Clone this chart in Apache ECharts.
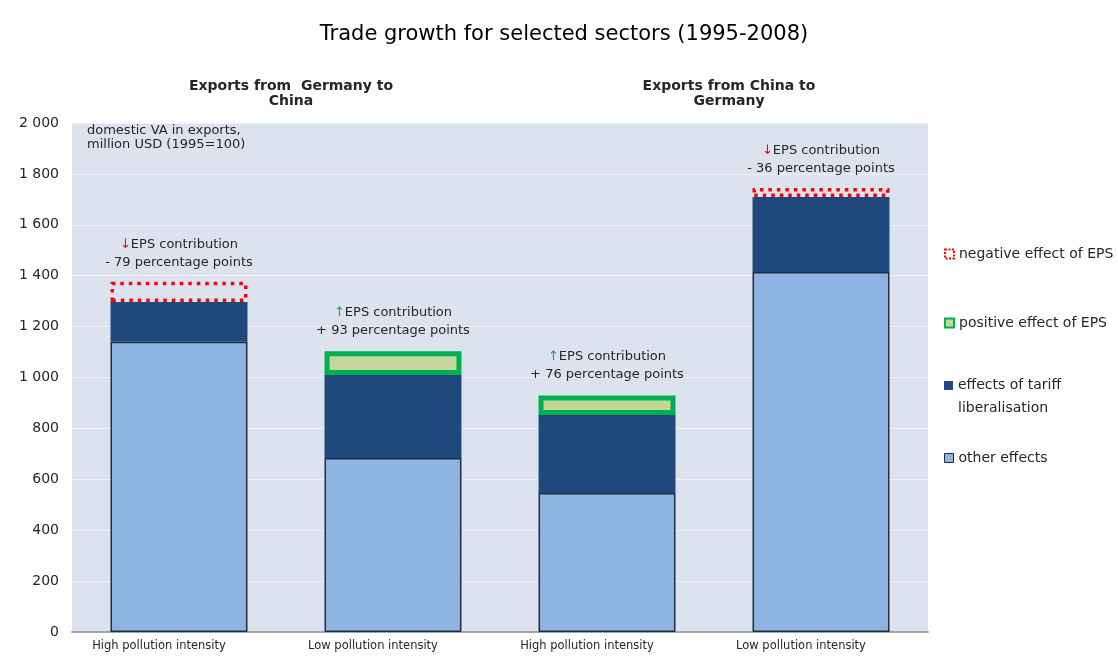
<!DOCTYPE html>
<html>
<head>
<meta charset="utf-8">
<script src="https://cdn.jsdelivr.net/npm/echarts@6/dist/echarts.min.js"></script>
<style>
  html, body { margin: 0; padding: 0; background: #ffffff; }
  #chart { width: 1118px; height: 659px; }
</style>
</head>
<body>
<div id="chart"></div>
<script>
// Sector categories along the horizontal axis
const categories = [
  'High pollution intensity',
  'Low pollution intensity',
  'High pollution intensity',
  'Low pollution intensity'
];

// Domestic VA in exports, million USD (1995=100), stacked components
const otherEffects  = [1140, 684, 546, 1415];
const tariffEffects = [157, 326, 307, 294];
// EPS contribution, percentage points
const epsPositive   = ['-', 93, 76, '-'];
const epsNegative   = [79, '-', '-', 36];

// Value axis range
const yMin = 0;
const yMax = 2000;
const yStep = 200;

const FONT = 'DejaVu Sans';
const TXT = '#262626';

function thousands(v) {
  return String(v).replace(/\B(?=(\d{3})+(?!\d))/g, ' ');
}

const chart = echarts.init(document.getElementById('chart'), null, { renderer: 'canvas' });

const legendBase = {
  orient: 'vertical',
  left: 939,
  itemWidth: 9,
  itemHeight: 9,
  itemGap: 0,
  selectedMode: false,
  textStyle: { fontFamily: FONT, fontSize: 14, color: TXT }
};

const option = {
  animation: false,
  backgroundColor: '#ffffff',
  textStyle: { fontFamily: FONT },
  title: [
    {
      text: 'Trade growth for selected sectors (1995-2008)',
      left: 559, top: 19, textAlign: 'center',
      textStyle: { fontFamily: FONT, fontSize: 21, fontWeight: 'normal', color: '#000' }
    },
    {
      text: 'Exports from  Germany to\nChina',
      left: 286, top: 74, textAlign: 'center',
      textStyle: { fontFamily: FONT, fontSize: 14, fontWeight: 'bold', color: TXT, lineHeight: 15 }
    },
    {
      text: 'Exports from China to\nGermany',
      left: 724, top: 74, textAlign: 'center',
      textStyle: { fontFamily: FONT, fontSize: 14, fontWeight: 'bold', color: TXT, lineHeight: 15 }
    }
  ],
  graphic: [
    {
      type: 'text',
      left: 87, top: 124, z: 10,
      style: {
        text: 'domestic VA in exports,\nmillion USD (1995=100)',
        font: '13px "DejaVu Sans"',
        fill: TXT,
        lineHeight: 14
      }
    }
  ],
  legend: [
    Object.assign({}, legendBase, {
      top: 242,
      data: [{ name: 'negative effect of EPS', icon: 'rect',
        itemStyle: { color: '#ffffff', borderColor: '#ff0000', borderWidth: 2, borderType: [2, 1.5] } }]
    }),
    Object.assign({}, legendBase, {
      top: 311,
      data: [{ name: 'positive effect of EPS', icon: 'rect',
        itemStyle: { color: '#c4d79b', borderColor: '#00b050', borderWidth: 2 } }]
    }),
    Object.assign({}, legendBase, {
      top: 346,
      // spacer line above keeps the first text line level with the swatch
      formatter: function () { return '{s| }\n{t|effects of tariff}\n{t|liberalisation}'; },
      textStyle: {
        fontFamily: FONT, fontSize: 14, color: TXT,
        rich: {
          s: { height: 23, lineHeight: 23, fontSize: 14 },
          t: { height: 23, lineHeight: 23, fontSize: 14, fontFamily: FONT, color: TXT }
        }
      },
      data: [{ name: 'effects of tariff liberalisation', icon: 'rect',
        itemStyle: { color: '#1f497d', borderWidth: 0 } }]
    }),
    Object.assign({}, legendBase, {
      top: 446,
      data: [{ name: 'other effects', icon: 'rect',
        itemStyle: { color: '#8eb4e3', borderColor: '#1f2d3d', borderWidth: 1 } }]
    })
  ],
  grid: {
    left: 72, right: 190, top: 123, bottom: 27,
    show: true,
    backgroundColor: '#dce3ef',
    borderWidth: 0
  },
  xAxis: {
    type: 'category',
    data: categories,
    axisLine: { show: true, lineStyle: { color: '#a6a6a6', width: 2 } },
    axisTick: { show: false },
    axisLabel: {
      fontFamily: FONT, fontSize: 11.5, color: TXT, margin: 8, interval: 0,
      padding: [0, 40, 0, 0]
    }
  },
  yAxis: {
    type: 'value',
    min: yMin, max: yMax, interval: yStep,
    axisLine: { show: false },
    axisTick: { show: false },
    axisLabel: {
      fontFamily: FONT, fontSize: 14, color: TXT, margin: 13,
      formatter: function (v) { return thousands(v); }
    },
    splitLine: { show: true, lineStyle: { color: '#eef1f7', width: 1 } }
  },
  series: [
    {
      name: 'other effects',
      type: 'bar',
      stack: 'total',
      barWidth: '64%',
      data: otherEffects,
      itemStyle: { color: '#8eb4e3', borderColor: '#1f2d3d', borderWidth: 1.5 },
      emphasis: { disabled: true }
    },
    {
      name: 'effects of tariff liberalisation',
      type: 'bar',
      stack: 'total',
      data: tariffEffects,
      itemStyle: { color: '#1f497d' },
      emphasis: { disabled: true }
    },
    {
      name: 'positive effect of EPS',
      type: 'bar',
      stack: 'total',
      data: epsPositive,
      itemStyle: { color: '#c4d79b', borderColor: '#00b050', borderWidth: 5 },
      label: {
        show: true,
        position: 'top',
        distance: 12,
        align: 'center',
        fontFamily: FONT, fontSize: 13, color: TXT, lineHeight: 18,
        formatter: function (p) {
          return '{up|↑}EPS contribution\n+ ' + p.value + ' percentage points';
        },
        rich: { up: { color: '#00b050', fontFamily: FONT, fontSize: 13 } }
      },
      emphasis: { disabled: true }
    },
    {
      name: 'negative effect of EPS',
      type: 'bar',
      stack: 'total',
      data: epsNegative,
      itemStyle: { color: 'rgba(0,0,0,0)', borderColor: '#ff0000', borderWidth: 3.5, borderType: [3.5, 5] },
      label: {
        show: true,
        position: 'top',
        distance: 10,
        align: 'center',
        fontFamily: FONT, fontSize: 13, color: TXT, lineHeight: 18,
        formatter: function (p) {
          return '{dn|↓}EPS contribution\n- ' + p.value + ' percentage points';
        },
        rich: { dn: { color: '#ff0000', fontFamily: FONT, fontSize: 13 } }
      },
      emphasis: { disabled: true }
    }
  ]
};

chart.setOption(option);
</script>
</body>
</html>
